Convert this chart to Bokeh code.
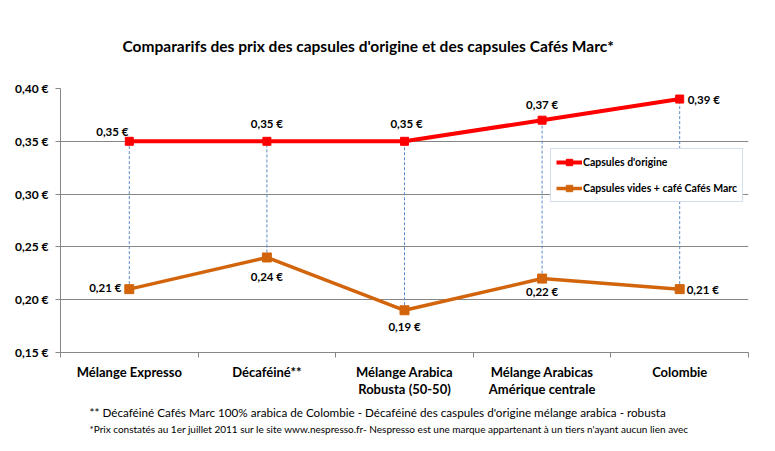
from bokeh.plotting import figure
from bokeh.models import (Range1d, FixedTicker, CustomJSTickFormatter, Title, Legend, LegendItem,
                          ColumnDataSource)
from bokeh.core.properties import value
from bokeh.embed import file_html
from bokeh.resources import INLINE

categories = ["Mélange Expresso", "Décaféiné**", "Mélange Arabica\nRobusta (50-50)",
              "Mélange Arabicas\nAmérique centrale", "Colombie"]
origine = [0.35, 0.35, 0.35, 0.37, 0.39]
marc = [0.21, 0.24, 0.19, 0.22, 0.21]
y_ticks = [0.15, 0.20, 0.25, 0.30, 0.35, 0.40]
title_text = "Compararifs des prix des capsules d'origine et des capsules Cafés Marc*"
note1 = "** Décaféiné Cafés Marc 100% arabica de Colombie - Décaféiné des caspules d'origine mélange arabica - robusta"
note2 = "*Prix constatés au 1er juillet 2011 sur le site www.nespresso.fr- Nespresso est une marque appartenant à un tiers n'ayant aucun lien avec"
name_origine = "Capsules d'origine"
name_marc = "Capsules vides + café Cafés Marc"

FONT = "Lato"
RED = "#ff0000"
ORANGE = "#d2650c"
GRID = "#868686"

xs = [i + 0.5 for i in range(len(categories))]

def fmt(v):
    return ("%.2f" % v).replace(".", ",") + " €"

p = figure(width=775, height=451, output_backend="svg", toolbar_location=None,
           x_range=Range1d(0, len(categories)), y_range=Range1d(y_ticks[0], y_ticks[-1]),
           min_border_left=60, min_border_right=27, min_border_top=88, min_border_bottom=99,
           background_fill_color="white", border_fill_color="white", outline_line_color=None)

# title
p.title = Title(text=title_text, align="left", offset=62, standoff=68,
                text_font=FONT, text_font_style="bold", text_font_size="15.5px",
                text_color="#000000")

# axes
p.xaxis.ticker = FixedTicker(ticks=xs, minor_ticks=list(range(len(categories) + 1)))
p.xaxis.major_label_overrides = {x: c for x, c in zip(xs, categories)}
p.xaxis.major_tick_line_color = None
p.xaxis.minor_tick_out = 5
p.xaxis.minor_tick_in = 0
p.xaxis.minor_tick_line_color = GRID
p.xaxis.axis_line_color = GRID
p.xaxis.major_label_standoff = 5
p.xaxis.major_label_text_font = FONT
p.xaxis.major_label_text_font_style = "bold"
p.xaxis.major_label_text_font_size = "13px"
p.xaxis.major_label_text_line_height = 1.1
p.xaxis.major_label_text_color = "#000000"
p.xgrid.visible = False

p.yaxis.ticker = FixedTicker(ticks=y_ticks, minor_ticks=[])
p.yaxis.formatter = CustomJSTickFormatter(code="return tick.toFixed(2).replace('.', ',') + ' €';")
p.yaxis.major_tick_out = 5
p.yaxis.major_tick_in = 0
p.yaxis.major_tick_line_color = GRID
p.yaxis.axis_line_color = GRID
p.yaxis.major_label_standoff = 7
p.yaxis.major_label_text_font = FONT
p.yaxis.major_label_text_font_style = "bold"
p.yaxis.major_label_text_font_size = "12px"
p.yaxis.major_label_text_color = "#000000"
p.ygrid.grid_line_color = GRID
p.ygrid.grid_line_width = 1

# drop lines
p.segment(x0=xs, y0=marc, x1=xs, y1=origine, line_color="#5b8ac6", line_width=1, line_dash="3 2")

# series
r1 = p.line(xs, origine, line_color=RED, line_width=4)
s1 = p.scatter(xs, origine, marker="square", size=8, fill_color=RED, line_color=RED)
r2 = p.line(xs, marc, line_color=ORANGE, line_width=3.5)
s2 = p.scatter(xs, marc, marker="square", size=9, fill_color=ORANGE, line_color=ORANGE)

# data labels
lab_o = ColumnDataSource(dict(x=xs, y=origine, t=[fmt(v) for v in origine],
                              dx=[-17, 0, 2, 0, 8], dy=[-10, -18, -18, -16, 0],
                              al=["center", "center", "center", "center", "left"]))
p.text(x="x", y="y", text="t", source=lab_o, x_offset="dx", y_offset="dy",
       text_align="al", text_baseline="middle", text_font=value(FONT), text_font_style="bold",
       text_font_size="11.5px", text_color="#000000")
lab_m = ColumnDataSource(dict(x=xs, y=marc, t=[fmt(v) for v in marc],
                              dx=[-8, 0, 0, 0, 7], dy=[-2, 19, 16, 13, 0],
                              al=["right", "center", "center", "center", "left"]))
p.text(x="x", y="y", text="t", source=lab_m, x_offset="dx", y_offset="dy",
       text_align="al", text_baseline="middle", text_font=value(FONT), text_font_style="bold",
       text_font_size="11.5px", text_color="#000000")

# legend
legend = Legend(items=[LegendItem(label=name_origine, renderers=[r1, s1]),
                       LegendItem(label=name_marc, renderers=[r2, s2])],
                location=(490, 150), orientation="vertical",
                border_line_color="#a7bfde", border_line_width=1, background_fill_color="white",
                background_fill_alpha=1, padding=5, spacing=10, margin=0,
                glyph_width=26, glyph_height=16, label_height=16, label_standoff=1,
                label_text_font=FONT, label_text_font_style="bold", label_text_font_size="10.5px",
                label_text_color="#000000")
p.add_layout(legend, "center")

# footnotes
p.add_layout(Title(text=note1, align="left", offset=29, standoff=4, text_font=FONT,
                   text_font_style="normal", text_font_size="11.7px", text_color="#000000"), "below")
p.add_layout(Title(text=note2, align="left", offset=29, standoff=0, text_font=FONT,
                   text_font_style="normal", text_font_size="10px", text_color="#000000"), "below")

open("out.html", "w").write(file_html(p, INLINE))
